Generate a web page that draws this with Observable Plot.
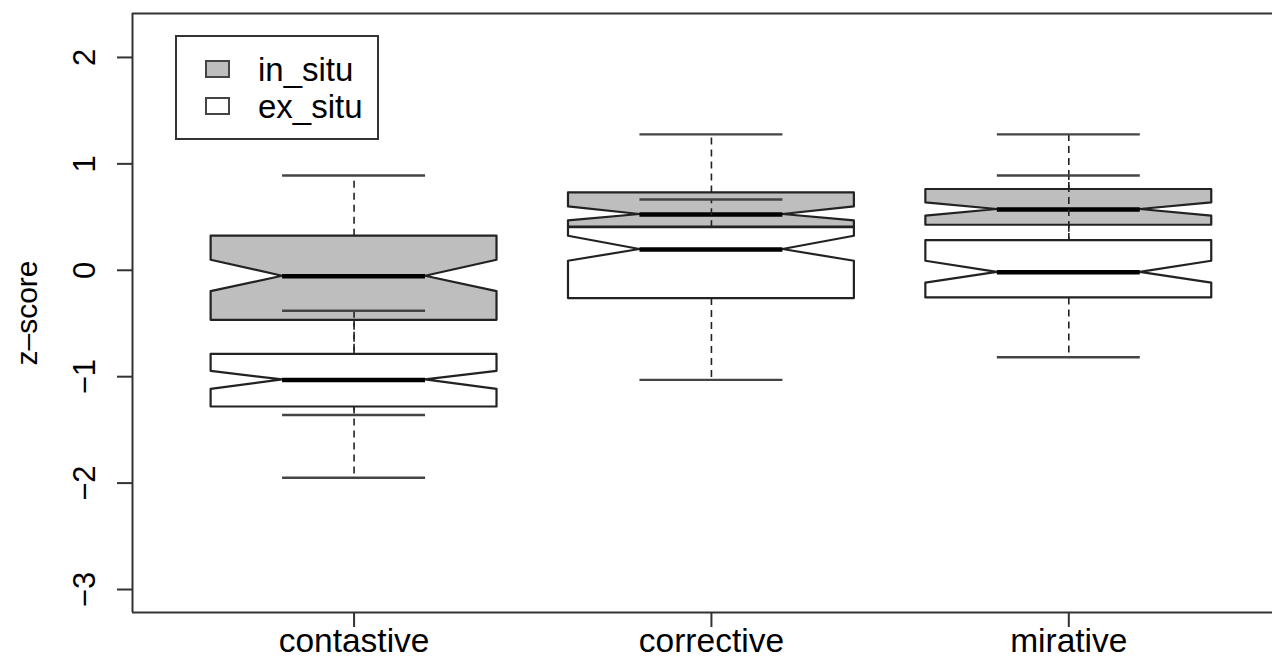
<!DOCTYPE html>
<html>
<head>
<meta charset="utf-8">
<script src="https://cdn.jsdelivr.net/npm/d3@7"></script>
<script src="https://cdn.jsdelivr.net/npm/@observablehq/plot@0.6"></script>
<style>
  body { margin: 0; background: #fff; }
  #wrap { position: relative; width: 1272px; height: 669px; font-family: "Liberation Sans", Arial, Helvetica, sans-serif; }
  #legend-box { position: absolute; left: 175px; top: 35px; width: 204px; height: 105px; box-sizing: border-box; border: 2px solid #333; background: #fff; }
  .sw { position: absolute; left: 205px; width: 25px; height: 18px; box-sizing: border-box; border: 2px solid #444; }
  .lab { position: absolute; left: 258px; font-size: 33px; line-height: 33px; color: #000; }
</style>
</head>
<body>
<div id="wrap"></div>
<script>
// ---- data ----
const categories = ["contastive", "corrective", "mirative"];
const series = ["in_situ", "ex_situ"];
const seriesFill = ["#bebebe", "#ffffff"];

// in_situ (grey boxes)
const inSituLower   = [-1.36, 0.10, 0.10];
const inSituQ1      = [-0.47, 0.405, 0.423];
const inSituNotchLo = [-0.20, 0.465, 0.508];
const inSituMedian  = [-0.056, 0.524, 0.571];
const inSituNotchHi = [0.094, 0.595, 0.633];
const inSituQ3      = [0.32, 0.727, 0.759];
const inSituUpper   = [0.89, 1.277, 1.277];

// ex_situ (white boxes)
const exSituLower   = [-1.95, -1.03, -0.818];
const exSituQ1      = [-1.285, -0.266, -0.26];
const exSituNotchLo = [-1.12, 0.085, -0.12];
const exSituMedian  = [-1.03, 0.195, -0.019];
const exSituNotchHi = [-0.95, 0.32, 0.085];
const exSituQ3      = [-0.79, 0.40, 0.279];
const exSituUpper   = [-0.38, 0.665, 0.89];

const yTicks = [-3, -2, -1, 0, 1, 2];
const yLabel = "z\u2013score";

// ---- build tables ----
const statArrays = [
  [inSituLower, inSituQ1, inSituNotchLo, inSituMedian, inSituNotchHi, inSituQ3, inSituUpper],
  [exSituLower, exSituQ1, exSituNotchLo, exSituMedian, exSituNotchHi, exSituQ3, exSituUpper]
];
const stats = series.map((s, si) => categories.map((c, ci) => {
  const a = statArrays[si];
  return {series: s, cat: c, pos: ci + 1, lower: a[0][ci], q1: a[1][ci], nlo: a[2][ci],
          med: a[3][ci], nhi: a[4][ci], q3: a[5][ci], upper: a[6][ci]};
}));
const halfW = 0.4, notchW = 0.2, capW = 0.2;
const polys = stats.map(rows => rows.flatMap(d => {
  const key = d.series + "|" + d.cat;
  return [[d.q1, halfW], [d.nlo, halfW], [d.med, notchW], [d.nhi, halfW], [d.q3, halfW]]
    .map(([y, w]) => ({key, y, x1: d.pos - w, x2: d.pos + w}));
}));

const xDomain = [0.38, 3.57];
const yDomain = [-3.216, 2.413];
const minus = v => (v < 0 ? "\u2212" + Math.abs(v) : String(v));

const seriesMarks = series.flatMap((s, si) => [
  Plot.areaX(polys[si], {y: "y", x1: "x1", x2: "x2", z: "key", fill: seriesFill[si], stroke: "none"}),
  Plot.ruleX(stats[si], {x: "pos", y1: "q3", y2: "upper", stroke: "#222", strokeWidth: 1.6, strokeDasharray: "7 5"}),
  Plot.ruleX(stats[si], {x: "pos", y1: "q1", y2: "lower", stroke: "#222", strokeWidth: 1.6, strokeDasharray: "7 5"}),
  Plot.ruleY(stats[si], {y: "upper", x1: d => d.pos - capW, x2: d => d.pos + capW, stroke: "#444", strokeWidth: 2.4}),
  Plot.ruleY(stats[si], {y: "lower", x1: d => d.pos - capW, x2: d => d.pos + capW, stroke: "#444", strokeWidth: 2.4}),
  Plot.areaX(polys[si], {y: "y", x1: "x1", x2: "x2", z: "key", fill: "none", stroke: "#222", strokeWidth: 2.2}),
  Plot.ruleY(stats[si], {y: "med", x1: d => d.pos - notchW, x2: d => d.pos + notchW, stroke: "#000", strokeWidth: 4.5})
]);

const chart = Plot.plot({
  width: 1272,
  height: 669,
  marginLeft: 132,
  marginRight: 0,
  marginTop: 13,
  marginBottom: 57,
  x: {domain: xDomain},
  y: {domain: yDomain},
  style: {fontFamily: "'Liberation Sans', Arial, Helvetica, sans-serif", background: "white", color: "black", overflow: "visible"},
  marks: [
    ...seriesMarks,
    Plot.ruleY(yDomain, {stroke: "#333", strokeWidth: 2}),
    Plot.ruleX([xDomain[0]], {stroke: "#333", strokeWidth: 2}),
    Plot.axisY(yTicks, {tickSize: 15, tickFormat: () => "", label: null, stroke: "#333", strokeWidth: 2}),
    Plot.axisX([1, 2, 3], {tickSize: 15, tickFormat: () => "", label: null, stroke: "#333", strokeWidth: 2}),
    Plot.text(yTicks, {y: d => d, text: minus, frameAnchor: "left", dx: -47, rotate: -90,
                       textAnchor: "middle", lineAnchor: "middle", fontSize: 31, fill: "#000"}),
    Plot.text(categories, {x: (d, i) => i + 1, text: d => d, frameAnchor: "bottom", dy: 29,
                           textAnchor: "middle", lineAnchor: "middle", fontSize: 33.5, fill: "#000"}),
    Plot.text([yLabel], {frameAnchor: "left", dx: -105, rotate: -90,
                         textAnchor: "middle", lineAnchor: "middle", fontSize: 30, fill: "#000"})
  ]
});

const wrap = document.getElementById("wrap");
wrap.appendChild(chart);

// legend overlay inside the plot area (top-left)
const box = document.createElement("div");
box.id = "legend-box";
wrap.appendChild(box);
series.forEach((s, i) => {
  const sw = document.createElement("div");
  sw.className = "sw";
  sw.style.top = (60 + i * 37) + "px";
  sw.style.background = seriesFill[i];
  wrap.appendChild(sw);
  const lab = document.createElement("div");
  lab.className = "lab";
  lab.style.top = (53 + i * 37) + "px";
  lab.textContent = s;
  wrap.appendChild(lab);
});
</script>
</body>
</html>
